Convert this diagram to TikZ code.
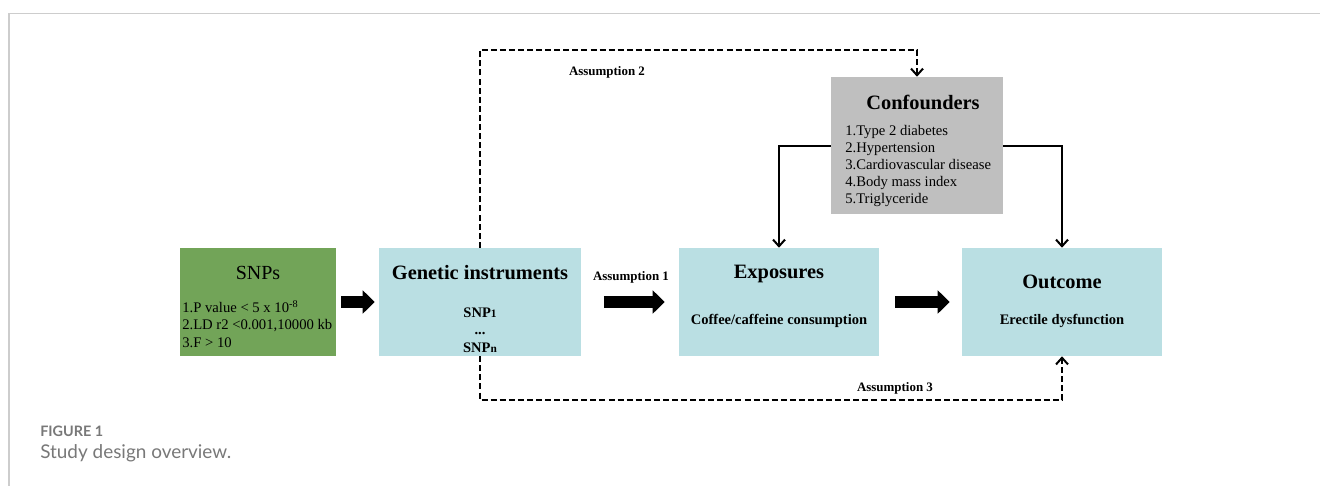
\documentclass[tikz,border=0pt]{standalone}
\usepackage{fontspec}
\setmainfont{Liberation Serif}
\newfontfamily\capfont{Lato}
\usepackage{tikz}
\usetikzlibrary{arrows.meta}
\definecolor{snpgreen}{RGB}{114,164,88}
\definecolor{boxblue}{RGB}{186,223,227}
\definecolor{confgrey}{RGB}{191,191,191}
\definecolor{framegrey}{RGB}{205,205,205}
\definecolor{capgrey}{RGB}{120,120,120}

\begin{document}
\begin{tikzpicture}[x=0.75pt,y=-0.75pt,
  box/.style={inner sep=0pt, minimum height=81pt},
  titletxt/.style={inner sep=0pt, font=\bfseries\fontsize{15.3}{18}\selectfont},
  listtxt/.style={inner sep=0pt, anchor=west, align=left, font=\fontsize{11}{12.8}\selectfont},
  smalltxt/.style={inner sep=0pt, font=\bfseries\fontsize{10.9}{13}\selectfont},
  asstxt/.style={inner sep=0pt, font=\bfseries\fontsize{9.7}{12}\selectfont},
  bigarrow/.style={line width=9pt, -{Triangle[length=9pt,width=17pt]}},
  linkarrow/.style={line width=1.5pt, -{Straight Barb[length=5pt,width=9pt]}},
  dasharrow/.style={linkarrow, dash pattern=on 4.5pt off 2.3pt}]
\useasboundingbox (0,0) rectangle (1320,486);
\draw[framegrey, line width=1.2pt] (1320,13.5) -- (9,13.5) -- (9,486);

\node[box, fill=snpgreen, minimum width=117pt] (snps) at (258,302) {};
\node[box, fill=boxblue, minimum width=151.5pt] (gi) at (480,302) {};
\node[box, fill=boxblue, minimum width=150pt] (expo) at (779,302) {};
\node[box, fill=boxblue, minimum width=150pt] (outc) at (1062,302) {};
\node[box, fill=confgrey, minimum width=129pt, minimum height=102.75pt] (conf) at (917,145.5) {};

\node[inner sep=0pt, font=\fontsize{15}{18}\selectfont] (snpst) at (258,273) {SNPs};
\node[listtxt] (snpsl) at (182,324) {1.P value < 5 x 10\textsuperscript{-8}\\2.LD r2 <0.001,10000 kb\\3.F > 10};
\node[titletxt] (git) at (480,273) {Genetic instruments};
\node[smalltxt, align=center] (gil) at (480,330) {SNP{\fontsize{8.5}{8}\selectfont 1}\\...\\SNP{\fontsize{8.5}{8}\selectfont n}};
\node[titletxt] (expot) at (779,274) {Exposures};
\node[smalltxt] (expol) at (779,321) {Coffee/caffeine consumption};
\node[titletxt] (outct) at (1062,282) {Outcome};
\node[smalltxt] (outcl) at (1062,321) {Erectile dysfunction};
\node[titletxt] (conft) at (923,102) {Confounders};
\node[listtxt] (confl) at (845,166) {1.Type 2 diabetes\\2.Hypertension\\3.Cardiovascular disease\\4.Body mass index\\5.Triglyceride};

\draw[bigarrow] ([xshift=3.75pt]snps.east) -- ([xshift=-3pt]gi.west);
\draw[bigarrow] ([xshift=17pt]gi.east) -- ([xshift=-10.5pt]expo.west);
\draw[bigarrow] ([xshift=12pt]expo.east) -- ([xshift=-9pt]outc.west);

\coordinate (topc) at (480,50);
\coordinate (botc) at (480,400);
\draw[dasharrow] (gi.north) -- (topc) -| (conf.north);
\draw[dasharrow] (gi.south) -- (botc) -| (outc.south);
\draw[linkarrow] (conf.west) -| (expo.north);
\draw[linkarrow] (conf.east) -| (outc.north);

\node[asstxt] (ass2) at (607,72) {Assumption 2};
\node[asstxt] (ass1) at (631,277) {Assumption 1};
\node[asstxt] (ass3) at (895,388) {Assumption 3};

\node[inner sep=0pt, anchor=west, text=capgrey, font=\capfont\bfseries\fontsize{10.8}{12}\selectfont] (figlab) at (40,431) {FIGURE 1};
\node[inner sep=0pt, anchor=west, text=capgrey, font=\capfont\fontsize{14.2}{16}\selectfont] (figcap) at (40,453) {Study design overview.};
\end{tikzpicture}
\end{document}
